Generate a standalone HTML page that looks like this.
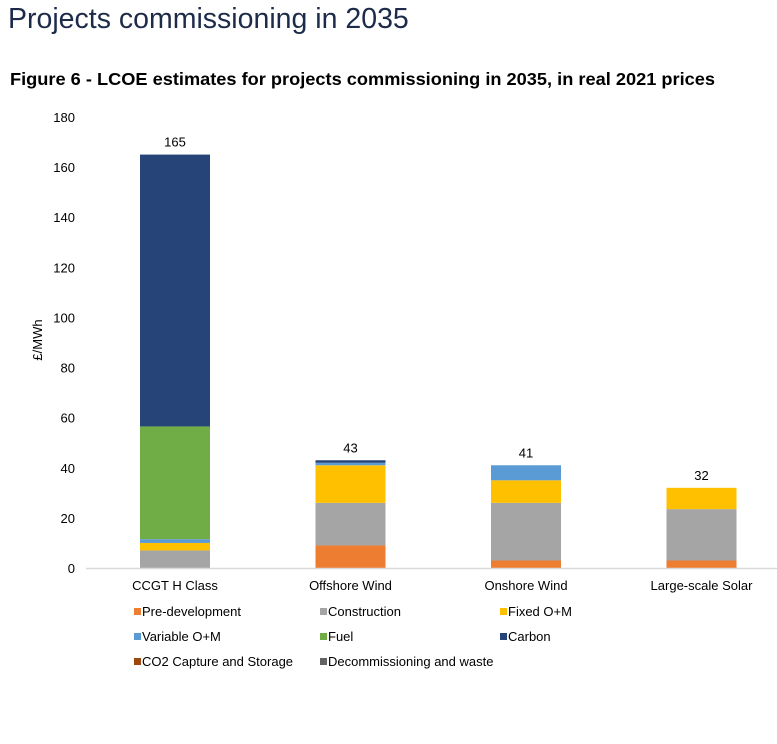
<!DOCTYPE html>
<html><head><meta charset="utf-8"><style>
body{margin:0;background:#fff;font-family:"Liberation Sans",sans-serif;}
#wrap{position:relative;width:777px;height:744px;overflow:hidden;}
h1{position:absolute;left:8px;top:3px;margin:0;font-weight:normal;font-size:28.5px;color:#1d2b4a;}
h2{position:absolute;left:10px;top:69px;margin:0;font-weight:bold;font-size:17.5px;color:#000;transform:scaleX(1.04);transform-origin:left;}
</style></head><body>
<div id="wrap">
<h1>Projects commissioning in 2035</h1>
<h2>Figure 6 - LCOE estimates for projects commissioning in 2035, in real 2021 prices</h2>
<svg id="chart" width="777" height="744" style="position:absolute;left:0;top:0"></svg>
</div>
<script>
const categories=["CCGT H Class","Offshore Wind","Onshore Wind","Large-scale Solar"];
const seriesNames=["Pre-development","Construction","Fixed O+M","Variable O+M","Fuel","Carbon","CO2 Capture and Storage","Decommissioning and waste"];
const seriesColors=["#ed7d31","#a5a5a5","#ffc000","#5b9bd5","#70ad47","#264478","#9e480e","#636363"];
const preDev=[0,9,3,3];
const construction=[7,17,23,20.5];
const fixedOM=[3,15,9,8.5];
const variableOM=[1.5,1,6,0];
const fuel=[45,0,0,0];
const carbon=[108.5,1,0,0];
const ccs=[0,0,0,0];
const decom=[0,0,0,0];
const totals=[165,43,41,32];
const yTicks=[0,20,40,60,80,100,120,140,160,180];
const series=[preDev,construction,fixedOM,variableOM,fuel,carbon,ccs,decom];
const svg=document.getElementById('chart');const NS='http://www.w3.org/2000/svg';
function mk(t,a,txt){const e=document.createElementNS(NS,t);for(const k in a)e.setAttribute(k,a[k]);if(txt!==undefined)e.textContent=txt;svg.appendChild(e);return e;}
const y0=568,yTop=117,yMax=180;
const y=v=>y0-(v/yMax)*(y0-yTop);
const x=i=>175+i*175.5;const bw=70;
yTicks.forEach(t=>{const e=mk('text',{x:75,y:y(t)+5,'text-anchor':'end','font-size':13,fill:'#000'},t);

});
const yl=mk('text',{transform:'translate(42,340) rotate(-90)','text-anchor':'middle','font-size':13,fill:'#000'},'£/MWh');


categories.forEach((c,i)=>{let acc=0;
series.forEach((s,j)=>{const v=s[i];if(v>0){const r=mk('rect',{x:x(i)-bw/2,y:y(acc+v),width:bw,height:y(acc)-y(acc+v),fill:seriesColors[j]});

}acc+=v;});
const t=mk('text',{x:x(i),y:y(totals[i])-8,'text-anchor':'middle','font-size':13,fill:'#000'},totals[i]);


const cl=mk('text',{x:x(i),y:590,'text-anchor':'middle','font-size':13,fill:'#000'},c);

});
const ax=mk('line',{x1:86,x2:777,y1:y0+0.5,y2:y0+0.5,stroke:'#d9d9d9','stroke-width':1.5});


const lx=[134,320,500];
seriesNames.forEach((n,j)=>{const r=Math.floor(j/3),c=j%3;const gx=lx[c],gy=616+r*25;
const sq=mk('rect',{x:gx,y:gy-8,width:7,height:7,fill:seriesColors[j]});


const t=mk('text',{x:gx+8,y:gy,'font-size':13,fill:'#000'},n);

});
</script>
</body></html>
